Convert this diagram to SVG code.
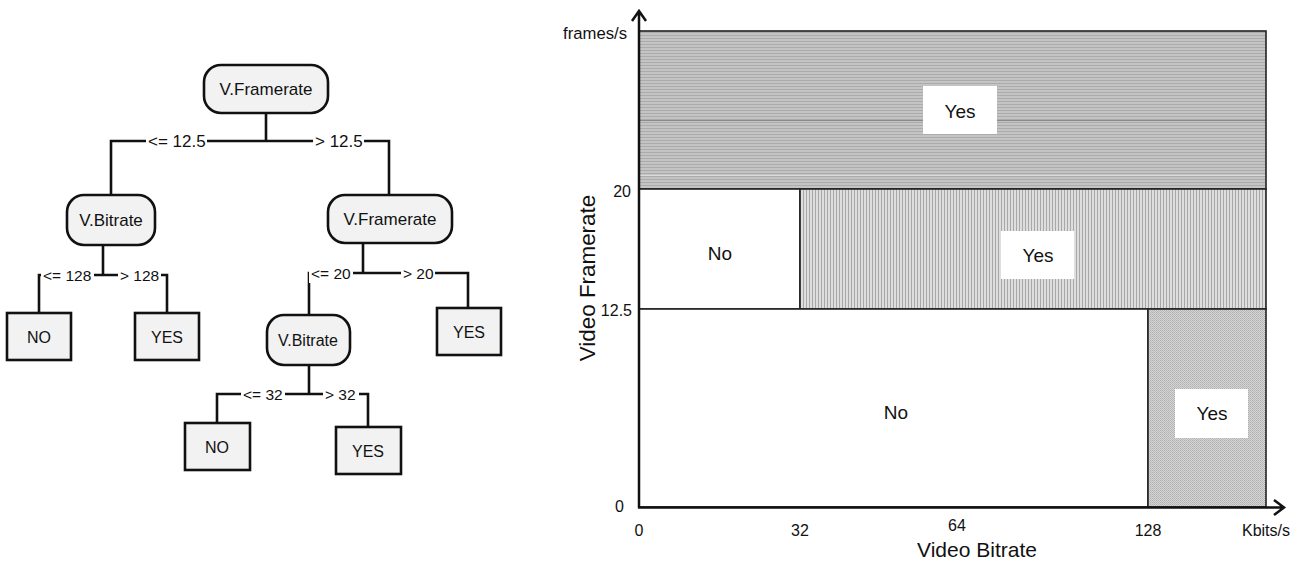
<svg xmlns="http://www.w3.org/2000/svg" width="1300" height="563" viewBox="0 0 1300 563">
  <style>
    text { font-family: "Liberation Sans", Arial, sans-serif; fill: #111; }
    .node { fill: #f2f2f2; stroke: #111; stroke-width: 2.6; }
    .edge { fill: none; stroke: #111; stroke-width: 2.6; }
    .lbl { font-size: 17px; }
    .lbl2 { font-size: 15.5px; }
    .nt { font-size: 16px; text-anchor: middle; dominant-baseline: central; }
    .nt17 { font-size: 17px; text-anchor: middle; dominant-baseline: central; }
    .mask { fill: #fff; }
    .region { stroke: #222; stroke-width: 1.6; }
    .tag { fill: #fff; }
    .ct { font-size: 19px; text-anchor: middle; dominant-baseline: central; }
    .tick { font-size: 16px; dominant-baseline: central; }
    .axis { fill: none; stroke: #111; stroke-width: 2.5; }
  </style>
  <defs>
    <pattern id="hatchH" width="6" height="3" patternUnits="userSpaceOnUse">
      <rect width="6" height="3" fill="#c4c4c4"/>
      <rect y="2" width="6" height="1" fill="#ababab"/>
    </pattern>
    <pattern id="hatchV" width="3" height="6" patternUnits="userSpaceOnUse">
      <rect width="3" height="6" fill="#dedede"/>
      <rect x="2" width="1" height="6" fill="#a8a8a8"/>
    </pattern>
    <pattern id="hatchD" width="4" height="4" patternUnits="userSpaceOnUse">
      <rect width="4" height="4" fill="#d6d6d6"/>
      <rect x="0" y="0" width="1" height="1" fill="#b0b0b0"/>
      <rect x="2" y="0" width="1" height="1" fill="#b0b0b0"/>
      <rect x="1" y="1" width="1" height="1" fill="#b8b8b8"/>
      <rect x="3" y="1" width="1" height="1" fill="#b8b8b8"/>
      <rect x="0" y="2" width="1" height="1" fill="#b0b0b0"/>
      <rect x="2" y="2" width="1" height="1" fill="#b0b0b0"/>
      <rect x="1" y="3" width="1" height="1" fill="#b8b8b8"/>
      <rect x="3" y="3" width="1" height="1" fill="#b8b8b8"/>
    </pattern>
  </defs>

  <rect width="1300" height="563" fill="#fff"/>

  <!-- decision tree: branch lines with their split labels -->
  <g id="connectors">
    <path class="edge" d="M266,113 V141 M111,195 V141 H389 V195"/>
    <rect class="mask" x="146" y="131" width="61" height="20"/>
    <rect class="mask" x="313" y="131" width="51" height="20"/>
    <text class="lbl" x="148" y="147">&lt;= 12.5</text>
    <text class="lbl" x="315" y="147">&gt; 12.5</text>

    <path class="edge" d="M103,245 V275 M39,313 V275 H167 V313"/>
    <rect class="mask" x="41" y="266" width="53" height="19"/>
    <rect class="mask" x="118" y="266" width="43" height="19"/>
    <text class="lbl2" x="43" y="281">&lt;= 128</text>
    <text class="lbl2" x="120" y="281">&gt; 128</text>

    <path class="edge" d="M363,243 V273 M309,315 V273 H468 V308"/>
    <rect class="mask" x="309" y="264" width="44" height="19"/>
    <rect class="mask" x="401" y="264" width="34" height="19"/>
    <text class="lbl2" x="311" y="279">&lt;= 20</text>
    <text class="lbl2" x="403" y="279">&gt; 20</text>

    <path class="edge" d="M309,365 V394 M217,423 V394 H368 V427"/>
    <rect class="mask" x="241" y="385" width="44" height="19"/>
    <rect class="mask" x="323" y="385" width="36" height="19"/>
    <text class="lbl2" x="243" y="400">&lt;= 32</text>
    <text class="lbl2" x="325" y="400">&gt; 32</text>
  </g>

  <g id="root-framerate">
    <rect class="node" x="204" y="65" width="124" height="48" rx="17"/>
    <text class="nt17" x="266" y="89">V.Framerate</text>
  </g>
  <g id="bitrate-left">
    <rect class="node" x="67" y="195" width="88" height="50" rx="17"/>
    <text class="nt17" x="111" y="220">V.Bitrate</text>
  </g>
  <g id="framerate-right">
    <rect class="node" x="328" y="195" width="124" height="48" rx="17"/>
    <text class="nt17" x="390" y="219">V.Framerate</text>
  </g>
  <g id="leaf-no-1">
    <rect class="node" x="7" y="313" width="64" height="47"/>
    <text class="nt" x="39" y="337">NO</text>
  </g>
  <g id="leaf-yes-1">
    <rect class="node" x="135" y="313" width="64" height="47"/>
    <text class="nt" x="167" y="337">YES</text>
  </g>
  <g id="bitrate-lower">
    <rect class="node" x="267" y="315" width="83" height="50" rx="17"/>
    <text class="nt" x="308" y="340">V.Bitrate</text>
  </g>
  <g id="leaf-yes-2">
    <rect class="node" x="437" y="308" width="64" height="47"/>
    <text class="nt" x="469" y="332">YES</text>
  </g>
  <g id="leaf-no-2">
    <rect class="node" x="185" y="423" width="65" height="47"/>
    <text class="nt" x="217" y="447">NO</text>
  </g>
  <g id="leaf-yes-3">
    <rect class="node" x="336" y="427" width="65" height="47"/>
    <text class="nt" x="368" y="451">YES</text>
  </g>

  <!-- partition of the bitrate / framerate plane -->
  <g id="partition">
    <rect class="region" x="639" y="31" width="627" height="158" fill="url(#hatchH)"/>
    <line x1="640" y1="120.5" x2="1265" y2="120.5" stroke="#8a8a8a" stroke-width="1"/>
    <line x1="640" y1="175.5" x2="1265" y2="175.5" stroke="#dcdcdc" stroke-width="1"/>
    <rect class="region" x="639" y="189" width="161" height="120" fill="#fff"/>
    <rect class="region" x="800" y="189" width="466" height="120" fill="url(#hatchV)"/>
    <rect class="region" x="639" y="309" width="509" height="198" fill="#fff"/>
    <rect class="region" x="1148" y="309" width="118" height="198" fill="url(#hatchD)"/>

    <rect class="tag" x="923" y="86" width="74" height="48"/>
    <text class="ct" x="960" y="111">Yes</text>
    <text class="ct" x="720" y="253">No</text>
    <rect class="tag" x="1001" y="231" width="73" height="48"/>
    <text class="ct" x="1038" y="255">Yes</text>
    <text class="ct" x="896" y="412">No</text>
    <rect class="tag" x="1175" y="389" width="73" height="49"/>
    <text class="ct" x="1212" y="413">Yes</text>
  </g>

  <g id="axes">
    <path class="axis" d="M639,508 V11 M632,21 L639,11 L646,21"/>
    <path class="axis" d="M638,507.5 H1283 M1274,500 L1284,507.5 L1274,515"/>
    <text class="tick" x="627" y="33" text-anchor="end" style="font-size:16.7px">frames/s</text>
    <text class="tick" x="631" y="191" text-anchor="end">20</text>
    <text class="tick" x="632" y="310" text-anchor="end">12.5</text>
    <text class="tick" x="624" y="506" text-anchor="end">0</text>
    <text class="tick" x="639" y="530" text-anchor="middle">0</text>
    <text class="tick" x="800" y="530" text-anchor="middle">32</text>
    <text class="tick" x="957" y="525" text-anchor="middle">64</text>
    <text class="tick" x="1148" y="530" text-anchor="middle">128</text>
    <text class="tick" x="1266" y="530" text-anchor="middle">Kbits/s</text>
    <text x="977" y="557" text-anchor="middle" style="font-size:21px">Video Bitrate</text>
    <text x="0" y="0" text-anchor="middle" transform="translate(595,278) rotate(-90)" style="font-size:22.4px">Video Framerate</text>
  </g>
</svg>
